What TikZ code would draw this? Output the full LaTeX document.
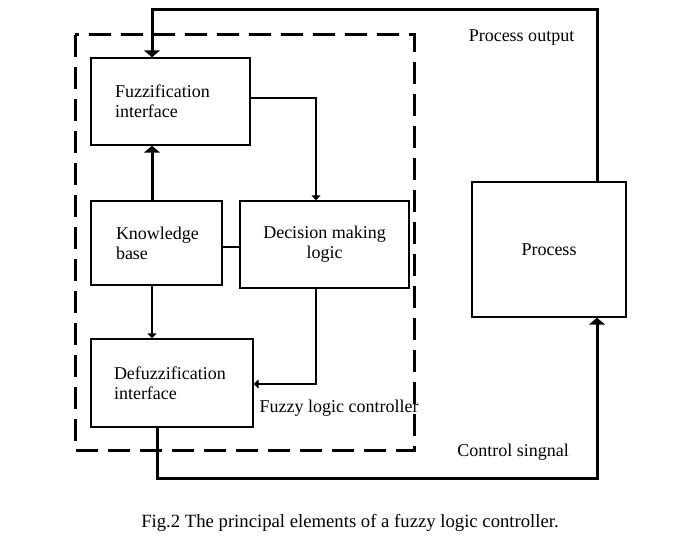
\documentclass[tikz,border=0pt]{standalone}
\usepackage{fontspec}
\setmainfont{Liberation Serif}
\usepackage{tikz}
\usetikzlibrary{arrows.meta,positioning,calc}

\begin{document}
\begin{tikzpicture}[
      x=1pt, y=-1pt,
      font=\fontsize{18}{20}\selectfont,
      block/.style={draw, line width=1.4pt, inner ysep=0pt},
      lblock/.style={block, align=left},
      arr/.style={-{Triangle[width=9pt,length=5pt]}, line width=1.4pt},
      fb/.style={line width=3pt},
      fbarr/.style={fb, -{Triangle[width=16pt,length=7pt]}},
      ctrl/.style={draw, line width=3pt, dash pattern=on 22pt off 10pt}
    ]
    \useasboundingbox (0,0) rectangle (674,545);
    % controller frame
    \draw[ctrl] (75,35) rectangle (414,450);
    \node[lblock, text width=111pt, inner xsep=24pt, minimum height=87pt]
          (fuzz) at (170.5,101.5) {Fuzzification\\interface};
    \node[lblock, text width=81pt, inner xsep=25pt, minimum height=84pt]
          (kb) at (156.5,243) {Knowledge\\base};
    \node[block, align=center, minimum width=169pt, minimum height=87pt]
          (dml) at (324.5,244.5) {Decision making\\logic};
    \node[lblock, text width=116pt, inner xsep=23pt, minimum height=88pt]
          (defz) at (172,383) {Defuzzification\\interface};
    \node[block, minimum width=154pt, minimum height=135pt]
          (proc) at (549,249.5) {Process};
    \node[anchor=west] (flc) at (256,408) {Fuzzy logic controller};
    \node (pout) at (521.5,38) {Process output};
    \node (csig) at (513,452) {Control singnal};
    \node[font=\fontsize{18.7}{21}\selectfont] (cap) at (350,523)
          {Fig.2 The principal elements of a fuzzy logic controller.};
    % loop coordinates
    \coordinate (fbR) at (597,10);
    \coordinate (fbL) at (152,10);
    \coordinate (csR) at (597,478);
    \coordinate (csL) at (157,478);
    \coordinate (dmx) at (316,0);
    % process output back to fuzzification
    \draw[fbarr] (proc.north -| fbR) -- (fbR) -- (fbL) -- (fbL |- fuzz.north);
    \draw[fbarr] (kb.north -| fbL) -- (fbL |- fuzz.south);
    \draw[arr] (kb.south -| fbL) -- (fbL |- defz.north);
    \draw[arr] ([yshift=3.5pt]fuzz.east) -| (dml.north -| dmx);
    \draw[arr] (dml.south -| dmx) |- ([yshift=-1pt]defz.east);
    \draw[line width=1.4pt] ([yshift=-4pt]kb.east) -- ([yshift=-4pt]kb.east -| dml.west);
    % control signal to process
    \draw[fbarr] (defz.south -| csL) -- (csL) -- (csR) -- (csR |- proc.south);
  \end{tikzpicture}
\end{document}
